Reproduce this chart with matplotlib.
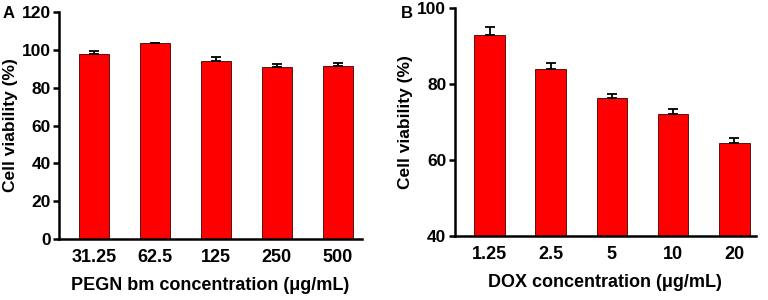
import matplotlib
matplotlib.use("Agg")
import matplotlib.pyplot as plt

# Panel A: PEGN bm
pegn_labels = ["31.25", "62.5", "125", "250", "500"]
pegn_vals = [97.8, 103.4, 93.9, 90.7, 91.3]
pegn_err = [1.4, 0.4, 2.1, 1.8, 1.7]

# Panel B: DOX
dox_labels = ["1.25", "2.5", "5", "10", "20"]
dox_vals = [93.0, 84.0, 76.3, 72.1, 64.6]
dox_err = [2.1, 1.7, 1.2, 1.5, 1.3]

plt.rcParams.update({
    "font.family": ["Liberation Sans", "DejaVu Sans"],
    "font.weight": "bold",
    "font.size": 13,
})

fig = plt.figure(figsize=(7.68, 3.0), dpi=100)
axA = fig.add_axes([0.077, 0.203, 0.394, 0.757])
axB = fig.add_axes([0.592, 0.213, 0.392, 0.759])


def draw(ax, labels, vals, err, ylim, yticks, xlabel, xlim):
    x = range(len(labels))
    ax.bar(x, vals, width=0.5, color="#ff0000", edgecolor="#400000", linewidth=0.6,
           yerr=[[0] * len(err), err], capsize=3.5,
           error_kw=dict(elinewidth=1.3, capthick=1.3, ecolor="black"))
    ax.set_ylim(*ylim)
    ax.set_xlim(*xlim)
    ax.set_yticks(yticks)
    ax.set_xticks(list(x))
    ax.set_xticklabels(labels)
    for side in ["top", "right"]:
        ax.spines[side].set_visible(False)
    for side in ["left", "bottom"]:
        ax.spines[side].set_linewidth(1.8)
    ax.tick_params(axis="y", direction="out", width=1.8, length=4, pad=2, labelsize=12.5)
    ax.tick_params(axis="x", length=0, pad=7, labelsize=13)
    ax.set_ylabel("Cell viability (%)", fontsize=12.5, fontweight="bold", labelpad=3)
    ax.set_xlabel(xlabel, fontsize=13, fontweight="bold", labelpad=8)


draw(axA, pegn_labels, pegn_vals, pegn_err, (0, 120), range(0, 121, 20),
     "PEGN bm concentration (μg/mL)", (-0.57, 4.39))
draw(axB, dox_labels, dox_vals, dox_err, (40, 100), range(40, 101, 20),
     "DOX concentration (μg/mL)", (-0.57, 4.35))

fig.text(0.004, 0.955, "A", fontsize=12, fontweight="bold", va="center")
fig.text(0.522, 0.955, "B", fontsize=12, fontweight="bold", va="center")

fig.savefig("out.png", dpi=100)
